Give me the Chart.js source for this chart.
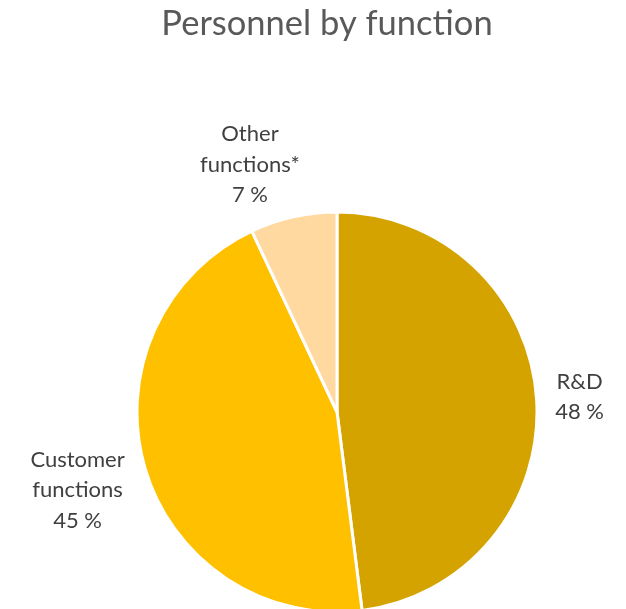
<!DOCTYPE html>
<html lang="en">
<head>
    <meta charset="UTF-8">
    <title>Personnel by function</title>
    <style>
        html, body { margin: 0; padding: 0; background: #fff; }
        #wrap { width: 626px; height: 609px; }
    </style>
</head>
<body>
    <div id="wrap"><canvas id="functionChart"></canvas></div>

    <script src="https://cdn.jsdelivr.net/npm/chart.js"></script>
    <script>
        // Dados do gráfico
        const functionLabels = [['R&D'], ['Customer', 'functions'], ['Other', 'functions*']];
        const functionShares = [48, 45, 7];
        const sliceColors = ['#D4A300', '#FFC000', '#FFD99F'];

        // distância do rótulo (fator do raio) e ajuste de ângulo em graus
        const labelDistance = [1.215, 1.355, 1.31];
        const labelAngleShift = [0, -0.6, -6.8];

        const labelFont = '22px Lato, "Open Sans", sans-serif';

        // Título e rótulos externos
        const pieLabels = {
            id: 'pieLabels',
            afterDraw(chart) {
                const ctx = chart.ctx;
                ctx.save();
                ctx.fillStyle = '#595959';
                ctx.font = '34.5px Lato, "Open Sans", sans-serif';
                ctx.textAlign = 'center';
                ctx.textBaseline = 'middle';
                ctx.fillText('Personnel by function', 327, 24);

                ctx.fillStyle = '#404040';
                ctx.font = labelFont;
                const meta = chart.getDatasetMeta(0);
                meta.data.forEach((arc, i) => {
                    const p = arc.getProps(['x', 'y', 'startAngle', 'endAngle', 'outerRadius'], true);
                    const mid = (p.startAngle + p.endAngle) / 2 + labelAngleShift[i] * Math.PI / 180;
                    const r = p.outerRadius * labelDistance[i];
                    const cx = p.x + Math.cos(mid) * r;
                    const cy = p.y + Math.sin(mid) * r;
                    const lines = functionLabels[i].concat([functionShares[i] + ' %']);
                    const lh = 30.5;
                    lines.forEach((t, j) => {
                        ctx.fillText(t, cx, cy + (j - (lines.length - 1) / 2) * lh);
                    });
                });
                ctx.restore();
            }
        };

        const ctx = document.getElementById('functionChart').getContext('2d');
        new Chart(ctx, {
            type: 'pie',
            data: {
                labels: functionLabels.map(l => l.join(' ')),
                datasets: [{
                    data: functionShares,
                    backgroundColor: sliceColors,
                    borderColor: '#ffffff',
                    borderWidth: 3,
                    hoverOffset: 0,
                    radius: 200,
                    clip: false
                }]
            },
            options: {
                responsive: true,
                maintainAspectRatio: false,
                animation: false,
                layout: {
                    padding: { top: 215, bottom: 0, left: 137, right: 89 }
                },
                plugins: {
                    legend: { display: false },
                    title: { display: false },
                    tooltip: { enabled: false }
                }
            },
            plugins: [pieLabels]
        });
    </script>
</body>
</html>
